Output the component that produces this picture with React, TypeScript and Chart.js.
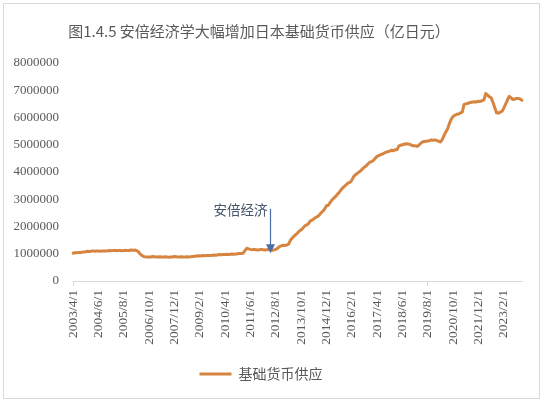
import React, { useEffect, useRef } from 'react';
import { Chart, registerables } from 'chart.js';

Chart.register(...registerables);

// ---- Data (亿日元), monthly, first point 2003/4 ----
const START_YEAR = 2003;
const START_MONTH = 4;

const supply2003 = [1020000, 1035000, 1040000, 1045000, 1050000, 1055000, 1060000, 1075000, 1090000];
const supply2004 = [1085000, 1090000, 1105000, 1095000, 1100000, 1100000, 1095000, 1100000, 1105000, 1100000, 1105000, 1120000];
const supply2005 = [1110000, 1115000, 1125000, 1110000, 1115000, 1120000, 1110000, 1115000, 1125000, 1115000, 1120000, 1140000];
const supply2006 = [1130000, 1135000, 1120000, 1080000, 1000000, 940000, 900000, 885000, 880000, 885000, 880000, 900000];
const supply2007 = [890000, 880000, 885000, 890000, 880000, 885000, 890000, 880000, 875000, 885000, 880000, 900000];
const supply2008 = [890000, 880000, 885000, 890000, 885000, 880000, 890000, 885000, 890000, 895000, 900000, 920000];
const supply2009 = [930000, 920000, 930000, 935000, 930000, 940000, 935000, 940000, 945000, 950000, 945000, 960000];
const supply2010 = [970000, 965000, 970000, 975000, 980000, 975000, 985000, 990000, 985000, 990000, 1000000, 1010000];
const supply2011 = [1010000, 1020000, 1120000, 1200000, 1180000, 1160000, 1150000, 1160000, 1150000, 1140000, 1150000, 1160000];
const supply2012 = [1150000, 1140000, 1150000, 1160000, 1150000, 1130000, 1140000, 1160000, 1200000, 1260000, 1290000, 1310000];
const supply2013 = [1300000, 1320000, 1350000, 1480000, 1570000, 1640000, 1700000, 1760000, 1830000, 1880000, 1940000, 2020000];
const supply2014 = [2050000, 2100000, 2200000, 2230000, 2280000, 2330000, 2360000, 2420000, 2500000, 2560000, 2640000, 2760000];
const supply2015 = [2780000, 2880000, 2970000, 3040000, 3100000, 3180000, 3250000, 3340000, 3420000, 3480000, 3540000, 3600000];
const supply2016 = [3620000, 3700000, 3830000, 3900000, 3950000, 4000000, 4050000, 4120000, 4180000, 4230000, 4300000, 4370000];
const supply2017 = [4380000, 4430000, 4510000, 4580000, 4600000, 4640000, 4660000, 4700000, 4730000, 4750000, 4770000, 4800000];
const supply2018 = [4780000, 4820000, 4820000, 4960000, 4980000, 5000000, 5020000, 5040000, 5030000, 5020000, 4980000, 4960000];
const supply2019 = [4960000, 4940000, 4980000, 5050000, 5100000, 5120000, 5130000, 5140000, 5150000, 5180000, 5160000, 5180000];
const supply2020 = [5150000, 5130000, 5100000, 5200000, 5350000, 5480000, 5600000, 5800000, 5950000, 6040000, 6080000, 6120000];
const supply2021 = [6130000, 6170000, 6200000, 6480000, 6500000, 6520000, 6540000, 6560000, 6570000, 6580000, 6570000, 6600000];
const supply2022 = [6590000, 6620000, 6650000, 6880000, 6820000, 6760000, 6720000, 6550000, 6350000, 6170000, 6160000, 6200000];
const supply2023 = [6230000, 6350000, 6500000, 6650000, 6780000, 6720000, 6660000, 6680000, 6700000, 6700000, 6680000, 6630000];

const baseMoneySupply = [
  ...supply2003, ...supply2004, ...supply2005, ...supply2006, ...supply2007,
  ...supply2008, ...supply2009, ...supply2010, ...supply2011, ...supply2012,
  ...supply2013, ...supply2014, ...supply2015, ...supply2016, ...supply2017,
  ...supply2018, ...supply2019, ...supply2020, ...supply2021, ...supply2022,
  ...supply2023,
];

// categories: one per month, "YYYY/M/1"
const categories: string[] = baseMoneySupply.map((_, i) => {
  const m0 = START_MONTH - 1 + i;
  return `${START_YEAR + Math.floor(m0 / 12)}/${(m0 % 12) + 1}/1`;
});

const tickLabels = [
  '2003/4/1', '2004/6/1', '2005/8/1', '2006/10/1', '2007/12/1', '2009/2/1',
  '2010/4/1', '2011/6/1', '2012/8/1', '2013/10/1', '2014/12/1', '2016/2/1',
  '2017/4/1', '2018/6/1', '2019/8/1', '2020/10/1', '2021/12/1', '2023/2/1',
];

const yTicks = [0, 1000000, 2000000, 3000000, 4000000, 5000000, 6000000, 7000000, 8000000];

const TITLE = '图1.4.5 安倍经济学大幅增加日本基础货币供应（亿日元）';
const SERIES_NAME = '基础货币供应';
const ARROW_LABEL = '安倍经济';
const ARROW_CATEGORY = '2012/5/1';
const ARROW_TOP_VALUE = 2650000;
const ARROW_TIP_VALUE = 1020000;

const LINE_COLOR = '#D6843F';
const TEXT_COLOR = '#595959';
const AXIS_COLOR = '#D9D9D9';
const ARROW_COLOR = '#4A6FA5';
const ARROW_TEXT_COLOR = '#44546A';
const CJK = '"Noto Sans CJK SC", sans-serif';
const SERIF = '"Liberation Serif", serif';

const titlePlugin = {
  id: 'customTitle',
  afterDraw(chart: any) {
    const { ctx } = chart;
    ctx.save();
    ctx.font = `15px ${CJK}`;
    ctx.fillStyle = TEXT_COLOR;
    ctx.textAlign = 'center';
    ctx.textBaseline = 'middle';
    ctx.fillText(TITLE, 259, 31);
    ctx.restore();
  },
};

const arrowPlugin = {
  id: 'abenomicsArrow',
  afterDatasetsDraw(chart: any) {
    const { ctx, scales } = chart;
    const xs = scales.x;
    const ys = scales.y;
    const idx = categories.indexOf(ARROW_CATEGORY);
    const px = Math.round(xs.getPixelForValue(idx)) + 0.5;
    const top = ys.getPixelForValue(ARROW_TOP_VALUE);
    const tip = ys.getPixelForValue(ARROW_TIP_VALUE);
    ctx.save();
    ctx.strokeStyle = ARROW_COLOR;
    ctx.fillStyle = ARROW_COLOR;
    ctx.lineWidth = 1.2;
    ctx.beginPath();
    ctx.moveTo(px, top);
    ctx.lineTo(px, tip - 7);
    ctx.stroke();
    ctx.beginPath();
    ctx.moveTo(px - 4.5, tip - 9);
    ctx.lineTo(px + 4.5, tip - 9);
    ctx.lineTo(px, tip);
    ctx.closePath();
    ctx.fill();
    ctx.font = `13.5px ${CJK}`;
    ctx.fillStyle = ARROW_TEXT_COLOR;
    ctx.textAlign = 'right';
    ctx.textBaseline = 'middle';
    ctx.fillText(ARROW_LABEL, px - 3, top + 1);
    ctx.restore();
  },
};

export default function App() {
  const canvasRef = useRef<HTMLCanvasElement | null>(null);

  useEffect(() => {
    const canvas = canvasRef.current;
    if (!canvas) return;
    const chart = new Chart(canvas, {
      type: 'line',
      data: {
        labels: categories,
        datasets: [
          {
            label: SERIES_NAME,
            data: baseMoneySupply,
            borderColor: LINE_COLOR,
            backgroundColor: LINE_COLOR,
            borderWidth: 3,
            pointRadius: 0,
            pointHoverRadius: 0,
            tension: 0,
            borderJoinStyle: 'round',
            borderCapStyle: 'round',
          },
        ],
      },
      options: {
        responsive: false,
        animation: false,
        devicePixelRatio: 1,
        layout: { padding: { top: 63, left: 0, right: 21, bottom: 9 } },
        plugins: {
          title: { display: false },
          tooltip: { enabled: false },
          legend: {
            display: true,
            position: 'bottom',
            labels: {
              color: TEXT_COLOR,
              font: { family: CJK, size: 14 },
              usePointStyle: true,
              pointStyle: 'line',
              pointStyleWidth: 32,
              padding: 10,
            },
          },
        },
        scales: {
          x: {
            type: 'category',
            offset: false,
            grid: {
              display: true,
              drawOnChartArea: false,
              drawTicks: true,
              tickLength: 5,
              color: (ctx: any) => (tickLabels.includes(categories[ctx.index]) ? AXIS_COLOR : 'rgba(0,0,0,0)'),
            },
            border: { display: true, color: AXIS_COLOR, width: 1 },
            ticks: {
              autoSkip: false,
              minRotation: 90,
              maxRotation: 90,
              padding: 4,
              color: TEXT_COLOR,
              font: { family: SERIF, size: 13.5 },
              callback: (_v: any, i: number) => (tickLabels.includes(categories[i]) ? categories[i] : null),
            },
            afterFit: (scale: any) => {
              scale.height = 76;
            },
          },
          y: {
            min: 0,
            max: 8000000,
            grid: { display: false, drawTicks: false },
            border: { display: false },
            afterBuildTicks: (scale: any) => {
              scale.ticks = yTicks.map((v) => ({ value: v }));
            },
            ticks: {
              padding: 14,
              color: TEXT_COLOR,
              font: { family: SERIF, size: 13 },
              callback: (v: any) => String(v),
            },
            afterFit: (scale: any) => {
              scale.width = 73;
            },
          },
        },
      },
      plugins: [titlePlugin, arrowPlugin],
    });
    return () => chart.destroy();
  }, []);

  return (
    <div
      style={{
        position: 'fixed',
        left: 0,
        top: 0,
        width: 543,
        height: 400,
        background: '#ffffff',
      }}
    >
      <div
        style={{
          position: 'absolute',
          left: 3,
          top: 3,
          width: 537,
          height: 396,
          boxSizing: 'border-box',
          border: '1px solid #D9D9D9',
        }}
      />
      <canvas
        ref={canvasRef}
        width={543}
        height={400}
        style={{ position: 'absolute', left: 0, top: 0, width: 543, height: 400 }}
      />
    </div>
  );
}
